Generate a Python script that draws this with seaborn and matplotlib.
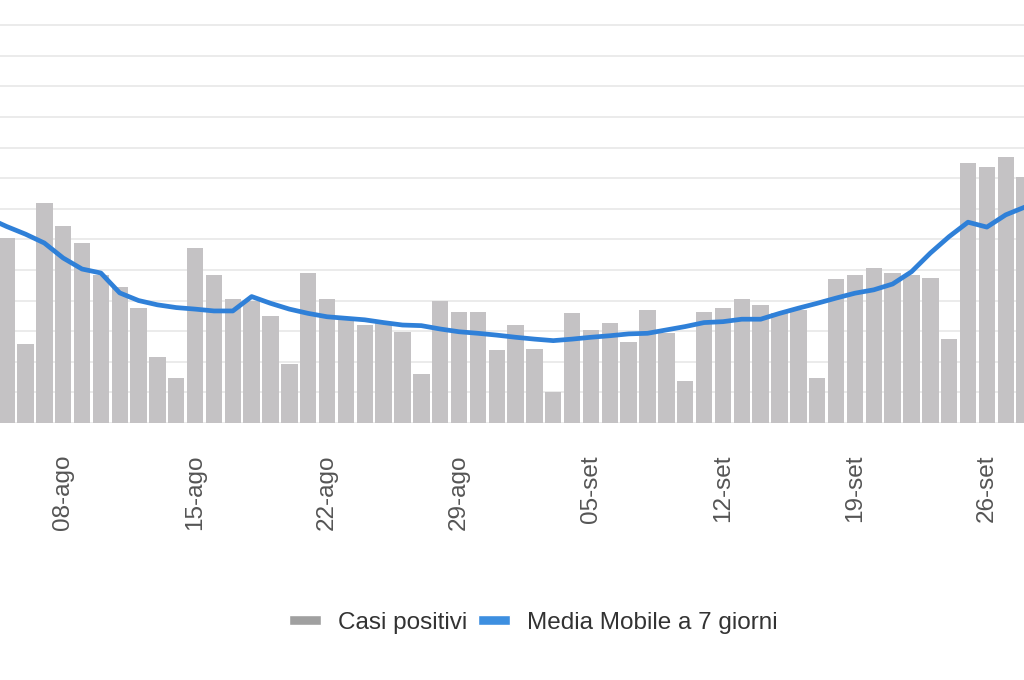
import numpy as np
import pandas as pd
import seaborn as sns
import matplotlib.pyplot as plt
from matplotlib.patches import Patch

# giorni dal 04-ago al 28-set (il 04-ago serve solo per la media, la barra e' fuori dal grafico)
mesi = {8: "ago", 9: "set"}
giorni = pd.date_range("2020-08-04", "2020-09-28", freq="D")
etichette = [f"{d.day:02d}-{mesi[d.month]}" for d in giorni]

casi = [np.nan,
        604, 258, 720, 644, 589, 484, 445, 374, 215, 148,
        573, 484, 405, 399, 351, 194, 489, 406, 337, 320,
        330, 298, 159, 399, 363, 363, 239, 320, 242, 100,
        358, 304, 326, 266, 369, 294, 138, 363, 374, 406,
        386, 359, 369, 148, 472, 484, 505, 489, 484, 473,
        275, 849, 836, 870, 803]

media = [670,
         642, 617, 588, 539, 503, 490, 425, 400, 386, 377,
         372, 366, 366, 413, 391, 372, 358, 347, 342, 337,
         328, 320, 318, 307, 298, 293, 287, 280, 274, 269,
         274, 280, 285, 291, 293, 304, 315, 328, 331, 339,
         339, 358, 375, 391, 408, 424, 435, 454, 494, 555,
         609, 656, 640, 680, 705]

tick_giorni = ["08-ago", "15-ago", "22-ago", "29-ago",
               "05-set", "12-set", "19-set", "26-set"]

df = pd.DataFrame({"giorno": etichette, "casi": casi, "media": media,
                   "pos": np.arange(len(etichette))})

sns.set_theme(style="whitegrid")
plt.rcParams['font.family'] = ['Liberation Sans', 'DejaVu Sans']

fig = plt.figure(figsize=(10.24, 6.8), dpi=100)
ax = fig.add_axes([0, 0.378, 1, 0.622])

sns.barplot(data=df, x="giorno", y="casi", order=etichette, color="#c4c2c4",
            saturation=1, width=0.87, linewidth=0, errorbar=None, ax=ax)
for p in ax.patches:
    p.set_zorder(2)
sns.lineplot(data=df, x="pos", y="media", color="#2f80d8", lw=3.4, ax=ax, zorder=3)

ax.set_xlim(0.65, 54.97)
ax.set_ylim(0, 1382)
ax.set_yticks(np.arange(0, 1400, 100))
ax.set_yticklabels([])
ax.grid(axis="y", color="#ebebeb", lw=1.4, zorder=0)
ax.grid(axis="x", visible=False)
ax.set_axisbelow(True)
for s in ax.spines.values():
    s.set_visible(False)

ax.set_xticks([etichette.index(t) for t in tick_giorni])
ax.set_xticklabels(tick_giorni, rotation=90, fontsize=17.5, color="#555555")
ax.tick_params(axis="x", length=0, pad=23)
ax.tick_params(axis="y", length=0)
ax.set_xlabel("")
ax.set_ylabel("")

handles = [Patch(facecolor="#a0a0a0"), Patch(facecolor="#3d8fe0")]
leg = fig.legend(handles, ["Casi positivi", "Media Mobile a 7 giorni"],
                 loc="center", bbox_to_anchor=(0.521, 0.084), ncol=2,
                 frameon=False, fontsize=17.5, handlelength=1.3,
                 handleheight=0.3, handletextpad=0.7, columnspacing=0.45)
for t in leg.get_texts():
    t.set_color("#333333")

fig.savefig("out.png", dpi=100)
